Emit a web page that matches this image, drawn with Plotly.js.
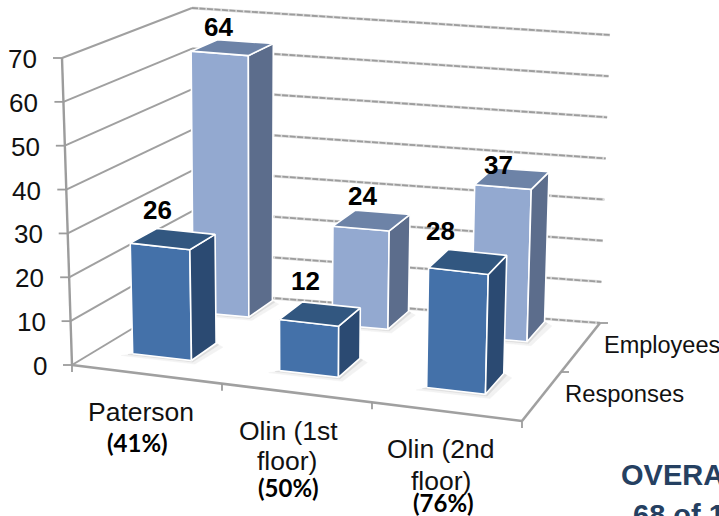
<!DOCTYPE html>
<html>
<head>
<meta charset="utf-8">
<script src="https://cdn.plot.ly/plotly-3.0.1.min.js"></script>
<style>html,body{margin:0;padding:0;background:#fff;overflow:hidden}</style>
</head>
<body>
<div id="chart" style="width:719px;height:516px"></div>
<script>
// Survey responses against employees per building
const categories = ["Paterson", "Olin (1st", "Olin (2nd"];
const categorySecondLine = ["", "floor)", "floor)"];
const rates = ["(41%)", "(50%)", "(76%)"];
const responses = [26, 12, 28];
const employees = [64, 24, 37];
const valueTicks = [0, 10, 20, 30, 40, 50, 60, 70];
const VALUE_MAX = 70;

// Frame of the 3D box on the page: [x, y] at value 0 and at VALUE_MAX
const frame = {
  frontLeft:  [[72, 365], [62, 58]],
  frontRight: [[522, 421], [531, 112]],
  backRight:  [[600, 323], [610, 35]],
  backLeft:   [[193, 292], [192, 8]]
};
const lerp = (a, b, t) => a + (b - a) * t;

// c: category position 0..3, s: depth 0..1, v: value
function project(c, s, v) {
  const u = c / 3, t = v / VALUE_MAX;
  return [0, 1].map(k => {
    const at = corner => lerp(corner[0][k], corner[1][k], t);
    const front = lerp(at(frame.frontLeft), at(frame.frontRight), u);
    const back = lerp(at(frame.backLeft), at(frame.backRight), u);
    return lerp(front, back, s);
  });
}

const traces = [];
function poly(points, fill, lineColor, lineWidth) {
  traces.push({
    type: "scatter", mode: "lines", hoverinfo: "skip",
    x: points.map(p => p[0]).concat(points[0][0]),
    y: points.map(p => p[1]).concat(points[0][1]),
    fill: "toself", fillcolor: fill,
    line: {color: lineColor || fill, width: lineWidth === undefined ? 1.6 : lineWidth}
  });
}
function line(points, color, width, dash) {
  traces.push({
    type: "scatter", mode: "lines", hoverinfo: "skip",
    x: points.map(p => p[0]), y: points.map(p => p[1]),
    line: {color: color, width: width, dash: dash || "solid"}
  });
}

// Value gridlines run along the left wall, then across the back wall
valueTicks.forEach(v => {
  line([project(0, 0, v), project(0, 1, v)], "#a0a0a0", 2);
  line([project(0, 1, v), project(3, 1, v)], "#dcdcdc", 3);
  line([project(0, 1, v), project(3, 1, v)], "#9c9c9c", 1.8, "6px,1.5px");
});

// Value axis and its ticks
line([project(0, 0, 0), project(0, 0, VALUE_MAX)], "#9c9c9c", 2.4);
valueTicks.forEach(v => {
  const p = project(0, 0, v);
  line([[p[0] - 9, p[1]], p], "#9c9c9c", 1.8);
});

// Floor edges and their ticks
line([project(0, 0, 0), project(3, 0, 0)], "#a0a0a0", 2.6);
line([project(3, 0, 0), project(3, 1, 0)], "#a0a0a0", 2.6);
[0, 1, 2, 3].forEach(c => {
  const p = project(c, 0, 0);
  line([p, [p[0], p[1] + 7]], "#9c9c9c", 1.8);
});
[0.5, 1].forEach(s => {
  const p = project(3, s, 0);
  line([p, [p[0] + 8, p[1]]], "#9c9c9c", 1.8);
});

// Bar footprint on the floor; each row has its own depth band
const BAR_HALF = 0.2;
const rows = [
  {values: employees, shift: -0.03, near: 0.76, far: 0.97, rise: 0.985,
   front: "#93a9d0", top: "#6d83a7", side: "#5c6d8c",
   labelAt: [[218, 27], [362, 196], [498, 165]]},
  {values: responses, shift: 0, near: 0.21, far: 0.43, rise: 0.985,
   front: "#4471a9", top: "#325780", side: "#2b4a72",
   labelAt: [[157, 210], [305, 281], [440, 231]]}
];
const catCentre = (i, r) => i + 0.44 + r.shift;

// Soft contact shadows go down first so no bar is covered by them
rows.forEach(r => r.values.forEach((val, i) => {
  const c0 = catCentre(i, r) - BAR_HALF, c1 = catCentre(i, r) + BAR_HALF;
  [[0.05, 0.035, "#f2f2f2"], [0.02, 0.015, "#dcdcdc"]].forEach(([dc, ds, col]) => {
    poly([
      project(c0 - dc, r.near - ds, 0), project(c1 + dc, r.near - ds, 0),
      project(c1 + dc * 1.5, r.far - ds, 0), project(c1, r.far, 0)
    ], col, col, 0.5);
  });
}));

const annotations = [];
function label(text, x, y, size, opts) {
  annotations.push(Object.assign({
    xref: "x", yref: "y", x: x, y: y, text: text, showarrow: false,
    xanchor: "center", yanchor: "middle", borderpad: 0, borderwidth: 0,
    font: {family: "Liberation Sans, Arial, sans-serif", size: size, color: "#111"}
  }, opts || {}));
}

// Bars: back row first, each as front, side and top faces
rows.forEach(r => r.values.forEach((val, i) => {
  const c0 = catCentre(i, r) - BAR_HALF, c1 = catCentre(i, r) + BAR_HALF;
  const {near, far} = r, h = val * r.rise;
  poly([project(c0, near, 0), project(c1, near, 0), project(c1, near, h), project(c0, near, h)], r.front, "#ffffff");
  poly([project(c1, near, 0), project(c1, far, 0), project(c1, far, h), project(c1, near, h)], r.side, "#ffffff");
  poly([project(c0, near, h), project(c1, near, h), project(c1, far, h), project(c0, far, h)], r.top, "#ffffff");
  label("<b>" + val + "</b>", r.labelAt[i][0], r.labelAt[i][1], 26, {font: {family: "Liberation Sans, Arial, sans-serif", size: 26, color: "#000"}});
}));

// Value tick labels sit just left of the leaning axis
valueTicks.forEach(v => {
  const p = project(0, 0, v);
  label(String(v), p[0] - 25, p[1] + 1, 26, {xanchor: "right"});
});

// Category labels with their response rate underneath
const catLabelAt = [[141, 412], [288, 431], [441, 449]];
const floorLineAt = [null, [287, 461], [441, 481]];
const rateAt = [[137, 442], [288, 487], [443, 502]];
categories.forEach((name, i) => {
  label(name, catLabelAt[i][0], catLabelAt[i][1], 26.5);
  if (categorySecondLine[i]) label(categorySecondLine[i], floorLineAt[i][0], floorLineAt[i][1], 26.5);
  label("<b>" + rates[i] + "</b>", rateAt[i][0], rateAt[i][1], 24,
    {font: {family: "Lato, sans-serif", size: 24, color: "#000"}});
});

// Depth axis labels
label("Employees", 604, 345, 23.5, {xanchor: "left"});
label("Responses", 565, 393, 23.8, {xanchor: "left"});

// Overall note, running off the page edge
const NOTE_FONT = {family: "Liberation Sans, Arial, sans-serif", size: 29, color: "#254061"};
label("<b>OVERALL</b>", 621, 475, 29, {xanchor: "left", font: NOTE_FONT});
label("<b>68 of 125</b>", 633, 499, 29, {xanchor: "left", yanchor: "top", font: NOTE_FONT});

Plotly.newPlot("chart", traces, {
  width: 719, height: 516, margin: {l: 0, r: 0, t: 0, b: 0},
  paper_bgcolor: "#ffffff", plot_bgcolor: "#ffffff", showlegend: false,
  hovermode: false,
  xaxis: {range: [0, 719], visible: false, fixedrange: true},
  yaxis: {range: [516, 0], visible: false, fixedrange: true},
  annotations: annotations
}, {displayModeBar: false, staticPlot: true});
</script>
</body>
</html>
